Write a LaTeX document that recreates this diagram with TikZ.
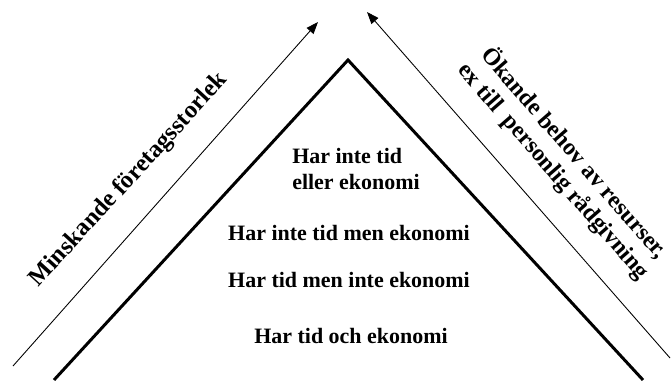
\documentclass[tikz,border=0pt]{standalone}
\usepackage{fontspec}
\setmainfont{Liberation Serif}
\usetikzlibrary{arrows.meta}

\tikzset{
  leg/.style={line width=1.7pt, line join=miter},
  trend/.style={line width=0.5pt, -{Triangle[length=2.4mm,width=1.8mm]}},
  lvl/.style={font=\fontsize{12.5}{15}\selectfont\bfseries, inner sep=0pt},
  side/.style={font=\fontsize{13.5}{15.5}\selectfont\bfseries, inner sep=0pt, align=center}
}

\begin{document}
\begin{tikzpicture}[x=0.02cm,y=-0.02cm]
   \useasboundingbox (0,0) rectangle (671,381);
   % pyramid
   \coordinate (bl) at (54,380);
   \coordinate (top) at (348,60);
   \coordinate (br) at (643,380);
   \draw[leg] (bl) -- (top) -- (br);
   % arrows
   \coordinate (l0) at (13,366);
   \coordinate (l1) at (318,22);
   \coordinate (r0) at (670,358);
   \coordinate (r1) at (367,12);
   \draw[trend] (l0) -- (l1);
   \draw[trend] (r0) -- (r1);
   % levels
   \node[lvl, align=left] (n4) at (356,169) {Har inte tid\\eller ekonomi};
   \node[lvl, anchor=base] (n3) at (349,240) {Har inte tid men ekonomi};
   \node[lvl, anchor=base] (n2) at (349,287) {Har tid men inte ekonomi};
   \node[lvl, anchor=base] (n1) at (351,343) {Har tid och ekonomi};
   % side labels
   \node[side, font=\fontsize{14}{16}\selectfont\bfseries, rotate=47.5] (size) at (129,180) {Minskande företagsstorlek};
   \node[side, rotate=-49] (need) at (564,162) {Ökande behov av resurser,\\ex till \ personlig rådgivning};
\end{tikzpicture}
\end{document}
